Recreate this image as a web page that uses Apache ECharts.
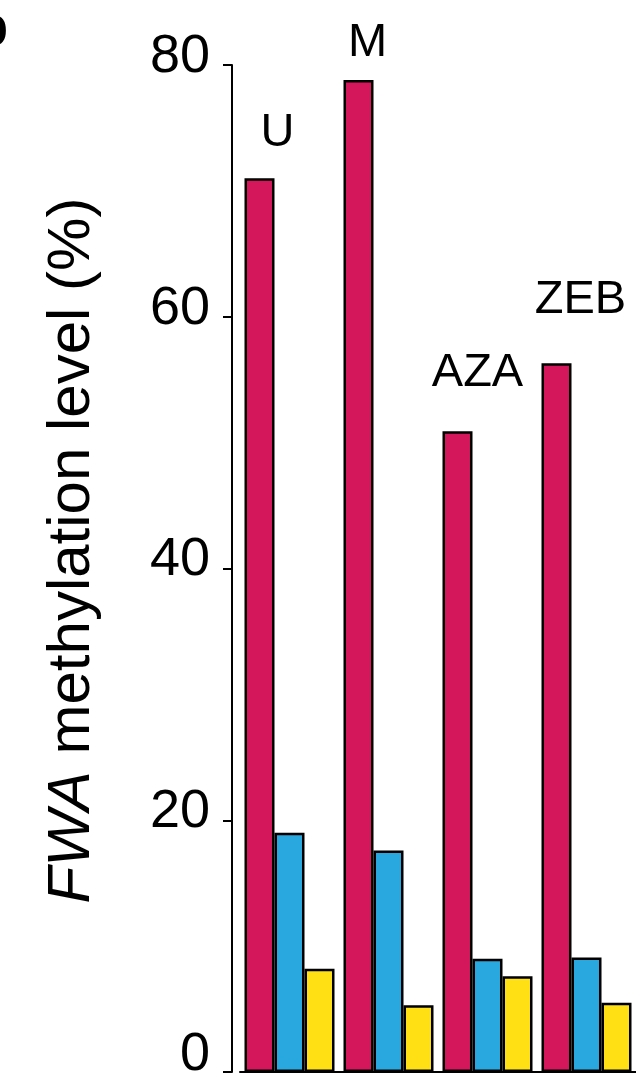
<!DOCTYPE html>
<html>
<head>
<meta charset="utf-8">
<script src="https://cdn.jsdelivr.net/npm/echarts@6/dist/echarts.min.js"></script>
<style>
  html, body { margin: 0; padding: 0; background: #fff; }
  #chart { width: 636px; height: 1075px; }
</style>
</head>
<body>
<div id="chart"></div>
<script>
// treatments (group labels)
var categories = ['U', 'M', 'AZA', 'ZEB'];
// FWA methylation level (%) per group, three bars each
var redValues = [71.0, 78.8, 50.9, 56.3];
var blueValues = [19.0, 17.6, 9.0, 9.1];
var yellowValues = [8.2, 5.3, 7.6, 5.5];
var yTicks = [0, 20, 40, 60, 80];

// label nudges for group names (px), kept apart from the data
var labelOffsets = [[18, -22], [9, -14], [20, -35], [24, -40]];

var font = '"Liberation Sans", Arial, Helvetica, sans-serif';

var chart = echarts.init(document.getElementById('chart'));

function barSeries(name, values, color) {
  return {
    name: name,
    type: 'bar',
    barWidth: 30,
    barGap: '0%',
    data: values,
    itemStyle: { color: color, borderColor: '#000', borderWidth: 2.5 }
  };
}

var red = barSeries('red', redValues, '#d4175a');
red.data = redValues.map(function (v, i) {
  return {
    value: v,
    label: {
      show: true,
      position: 'top',
      distance: 0,
      offset: labelOffsets[i],
      formatter: categories[i],
      fontSize: 47,
      fontFamily: font,
      color: '#000'
    }
  };
});

chart.setOption({
  animation: false,
  backgroundColor: '#fff',
  grid: { left: 240, right: 0, top: 65, bottom: 3, containLabel: false, outerBoundsMode: 'none' },
  xAxis: {
    type: 'category',
    data: categories,
    axisLine: { lineStyle: { color: '#000', width: 2 } },
    axisTick: { show: false },
    axisLabel: { show: false },
    splitLine: { show: false }
  },
  yAxis: {
    type: 'value',
    min: yTicks[0],
    max: yTicks[yTicks.length - 1],
    interval: 20,
    offset: 8,
    axisLine: { show: true, lineStyle: { color: '#000', width: 2 } },
    axisTick: { show: true, length: 9, lineStyle: { color: '#000', width: 2 } },
    axisLabel: {
      color: '#000',
      margin: 22,
      formatter: function (v) { return v === 0 ? '{z|0}' : '{n|' + v + '}'; },
      rich: {
        n: { fontSize: 54, fontFamily: font, color: '#000', padding: [0, 0, 16, 0] },
        z: { fontSize: 54, fontFamily: font, color: '#000', padding: [0, 0, 34, 0] }
      }
    },
    splitLine: { show: false },
    name: '{i|FWA} methylation level (%)',
    nameLocation: 'middle',
    nameGap: 130,
    nameTextStyle: {
      fontSize: 60,
      color: '#000',
      fontFamily: font,
      padding: [0, 0, 0, 36],
      rich: {
        i: { fontSize: 60, fontStyle: 'italic', fontFamily: font, color: '#000' }
      }
    }
  },
  graphic: [{
    type: 'text',
    left: -26,
    top: 2,
    style: { text: 'b', fontSize: 56, fontWeight: 'bold', fontFamily: font, fill: '#000' }
  }],
  series: [
    red,
    barSeries('blue', blueValues, '#29a8e0'),
    barSeries('yellow', yellowValues, '#ffe014')
  ]
});
</script>
</body>
</html>
